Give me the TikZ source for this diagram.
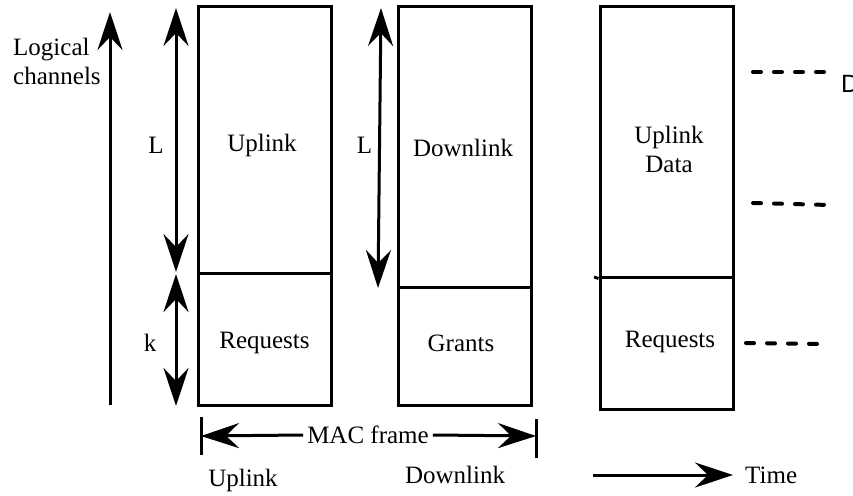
\documentclass[tikz,border=0pt]{standalone}
\usepackage{fontspec}
\setmainfont{Liberation Serif}
\setsansfont{Liberation Sans}
\usetikzlibrary{arrows.meta}
\begin{document}
\begin{tikzpicture}[x=1pt,y=-1pt,
  cell/.style={draw,line width=3pt,minimum width=133pt,inner sep=0pt},
  lbl/.style={font=\fontsize{25}{29}\selectfont,inner sep=0pt},
  thick line/.style={line width=3pt},
  tip/.style={line width=3pt,-{Stealth[length=38pt,width=25pt,inset=13pt]}},
  tips/.style={line width=3pt,{Stealth[length=38pt,width=25pt,inset=13pt]}-{Stealth[length=38pt,width=25pt,inset=13pt]}},
  dash line/.style={line width=4pt,line cap=round,dash pattern=on 8pt off 13pt}]
\useasboundingbox (0,0) rectangle (853,495);

% frame columns
\node[cell,minimum height=266pt] (ulup) at (264.5,140) {};
\node[cell,minimum height=132pt] (ullo) at (264.5,339) {};
\node[cell,minimum height=280pt] (dlup) at (464.5,147) {};
\node[cell,minimum height=118pt] (dllo) at (464.5,346) {};
\node[cell,minimum height=270pt] (udup) at (666.5,142) {};
\node[cell,minimum height=132pt] (udlo) at (666.5,343) {};
\coordinate (stub) at (594,277);
\draw[thick line] (stub) -- (udup.south west);

% cell texts
\node[lbl] (tul) at (262,145) {Uplink};
\node[lbl] (treq) at (264.5,343) {Requests};
\node[lbl] (tdl) at (463,148) {Downlink};
\node[lbl] (tgr) at (461,343) {Grants};
\node[lbl,align=center] (tud) at (669,149) {Uplink\\Data};
\node[lbl] (treq2) at (670,342) {Requests};

% logical channel axis
\coordinate (lc0) at (110,405);
\coordinate (lc1) at (110,12);
\draw[tip] (lc0) -- (lc1);
\node[lbl,align=left,anchor=north west] (tlc) at (13,38) {Logical\\channels};

% dimension arrows
\coordinate (L1a) at (176,272);
\coordinate (L1b) at (176,8);
\draw[tips] (L1a) -- (L1b);
\coordinate (k1a) at (176,274);
\coordinate (k1b) at (176,406);
\draw[tips] (k1a) -- (k1b);
\node[lbl] (tL1) at (156,145) {L};
\node[lbl] (tk) at (150,343) {k};
\coordinate (L2a) at (378,288);
\coordinate (L2b) at (381,8);
\draw[tips] (L2a) -- (L2b);
\node[lbl] (tL2) at (364.5,145) {L};

% MAC frame span
\coordinate (mfl) at (201,436);
\coordinate (mfr) at (536,436);
\draw[thick line] (201,417) -- (201,455);
\draw[thick line] (536,419) -- (536,458);
\node[lbl,fill=white,inner xsep=4pt] (tmac) at (368,435) {MAC frame};
\draw[tip] (tmac.west) -- (mfl);
\draw[tip] (tmac.east) -- (mfr);
\node[lbl] (tub) at (243,480) {Uplink};
\node[lbl] (tdb) at (455,475) {Downlink};

% time axis
\coordinate (t0) at (593,475);
\coordinate (t1) at (733,475);
\draw[tip] (t0) -- (t1);
\node[lbl,anchor=west] (ttime) at (745,475) {Time};

% dashed leaders
\coordinate (d1a) at (753,72);
\coordinate (d1b) at (830,72);
\draw[dash line] (d1a) -- (d1b);
\node[font=\sffamily\fontsize{25}{29}\selectfont,inner sep=0pt,anchor=west] (tD) at (841,84) {D};
\coordinate (d2a) at (753,203);
\coordinate (d2b) at (830,205);
\draw[dash line] (d2a) -- (d2b);
\coordinate (d3a) at (746,343);
\coordinate (d3b) at (823,344);
\draw[dash line] (d3a) -- (d3b);
\end{tikzpicture}
\end{document}
